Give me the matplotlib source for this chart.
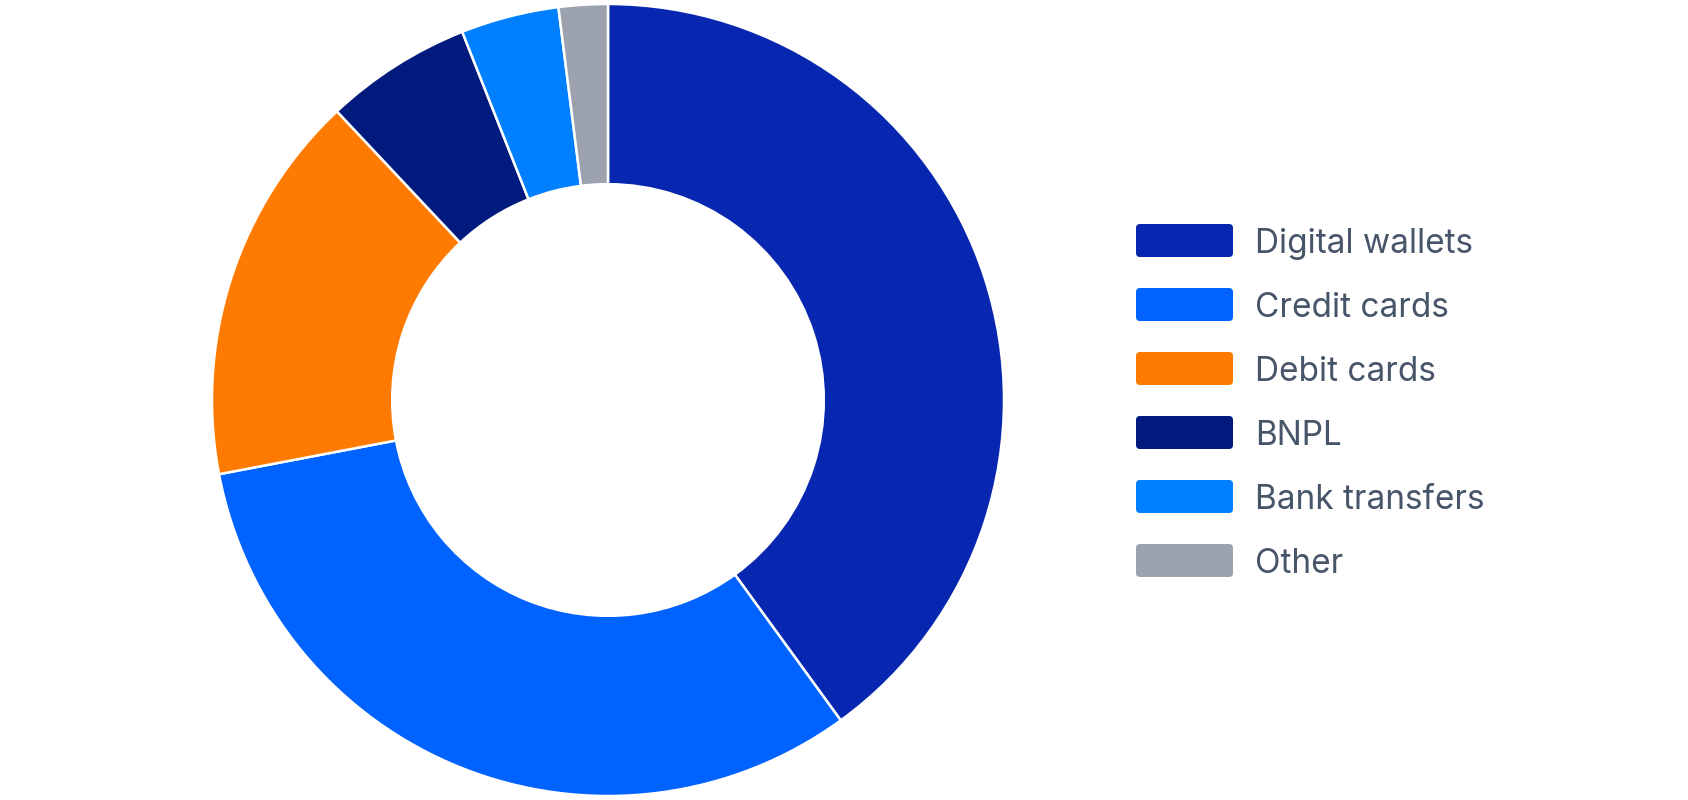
import matplotlib
matplotlib.use("Agg")
import matplotlib.pyplot as plt
from matplotlib.patches import FancyBboxPatch

# payment method shares (%)
labels = ["Digital wallets", "Credit cards", "Debit cards", "BNPL", "Bank transfers", "Other"]
shares = [40, 32, 16, 6, 4, 2]
colors = ["#0727B0", "#0062FF", "#FF7A00", "#001A7D", "#0080FF", "#9CA3AF"]

W, H = 1688, 800
fig = plt.figure(figsize=(W / 100, H / 100), dpi=100)

# donut: centre (608, 400) px, outer radius 396 px
r = 396
ax = fig.add_axes([(608 - r) / W, (400 - r) / H, 2 * r / W, 2 * r / H])
ax.pie(shares, colors=colors, startangle=90, counterclock=False,
       wedgeprops=dict(width=0.455, edgecolor="white", linewidth=1.8))
ax.set_xlim(-1, 1)
ax.set_ylim(-1, 1)
ax.set_aspect("auto")
ax.axis("off")

# legend drawn by hand so the swatches can have rounded corners
lg = fig.add_axes([0, 0, 1, 1])
lg.set_xlim(0, W)
lg.set_ylim(H, 0)
lg.axis("off")
for i, (lab, col) in enumerate(zip(labels, colors)):
    y = 224 + i * 64
    lg.add_patch(FancyBboxPatch((1138, y + 2), 93, 29,
                                boxstyle="round,pad=2,rounding_size=4",
                                fc=col, ec="none"))
    lg.text(1255, y + 20, lab, fontsize=24, color="#475569",
            family="Inter", va="center", ha="left")

fig.savefig("out.png", dpi=100, facecolor="white")
